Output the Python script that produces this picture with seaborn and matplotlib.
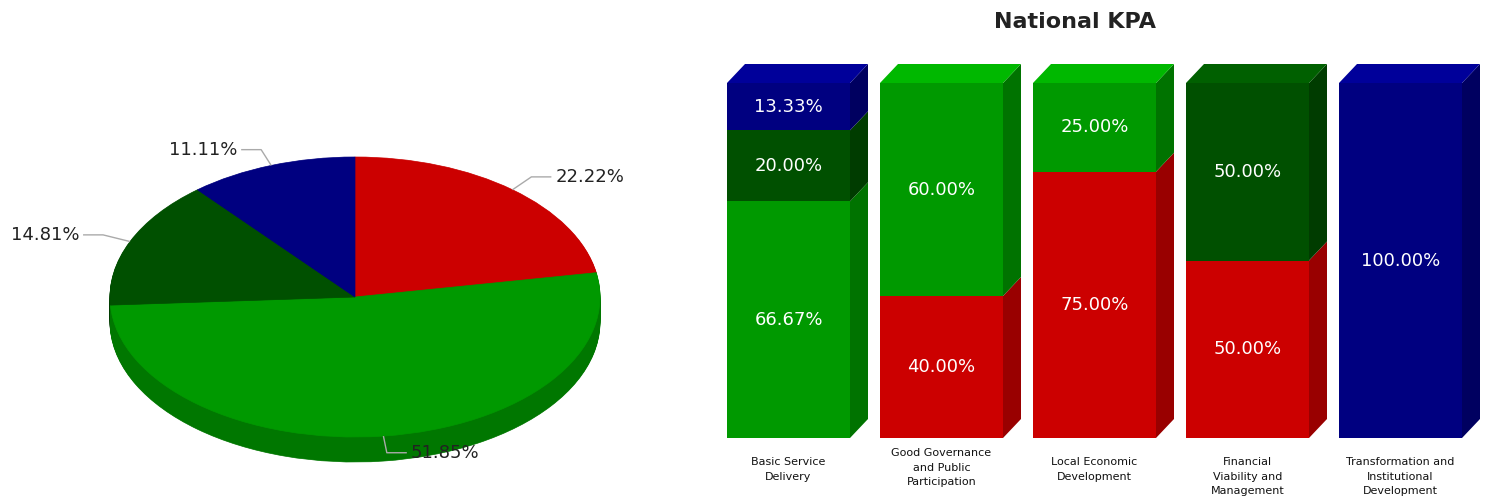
import numpy as np
import pandas as pd
import matplotlib
matplotlib.use("Agg")
import matplotlib.pyplot as plt
import matplotlib.colors as mcolors
from matplotlib.patches import Polygon
import seaborn as sns

# ---------------- data ----------------
pie_values = [22.22, 51.85, 14.81, 11.11]
pie_labels = ["22.22%", "51.85%", "14.81%", "11.11%"]

categories = [
    "Basic Service\nDelivery",
    "Good Governance\nand Public\nParticipation",
    "Local Economic\nDevelopment",
    "Financial\nViability and\nManagement",
    "Transformation and\nInstitutional\nDevelopment",
]
red_vals = [0, 40.00, 75.00, 50.00, 0]
green_vals = [66.67, 60.00, 25.00, 0, 0]
dkgreen_vals = [20.00, 0, 0, 50.00, 0]
navy_vals = [13.33, 0, 0, 0, 100.00]

series_colors = ["#cc0000", "#009900", "#005000", "#000080"]
title = "National KPA"

# ---------------- helpers ----------------
def shade(c, f):
    r, g, b = mcolors.to_rgb(c)
    return (min(r * f, 1), min(g * f, 1), min(b * f, 1))

sns.set_theme(style="white")
plt.rcParams["font.family"] = ["DejaVu Sans"]

W, H = 1487, 498
fig = plt.figure(figsize=(W / 100, H / 100), dpi=100)
fig.patch.set_facecolor("white")

# ---------------- 3D pie ----------------
cx, cy, rx, ry, depth_px = 355, 297, 245, 140, 25
pw = 669
ax1 = fig.add_axes([0, 0, pw / W, 1])
depth = depth_px / ry
side_cols = [shade(c, 0.78) for c in series_colors]
nl = 30
for k in range(nl, 0, -1):
    wedges, _ = ax1.pie(pie_values, colors=side_cols, startangle=90, counterclock=False,
                        center=(0, -depth * k / nl), wedgeprops=dict(linewidth=0))
    for w in wedges:
        w.set_edgecolor(w.get_facecolor())
        w.set_linewidth(0.5)
wedges, _ = ax1.pie(pie_values, colors=series_colors, startangle=90, counterclock=False,
                    center=(0, 0), wedgeprops=dict(linewidth=0))
for w in wedges:
    w.set_edgecolor(w.get_facecolor())
    w.set_linewidth(0.5)

cum = np.concatenate([[0], np.cumsum(pie_values)])
total = cum[-1]
for i, v in enumerate(pie_values):
    mid = np.deg2rad(90 - 360 * (cum[i] + v / 2) / total)
    px, py = np.cos(mid), np.sin(mid)
    ex, ey = 1.12 * px, 1.12 * py
    sgn = 1 if px >= 0 else -1
    hx = ex + sgn * 20 / rx
    ax1.plot([px, ex, hx], [py, ey, ey], color="#aaaaaa", lw=1, solid_capstyle="butt")
    ax1.text(hx + sgn * 4 / rx, ey, pie_labels[i], ha="left" if sgn > 0 else "right",
             va="center", fontsize=13, color="#222222")

ax1.set_aspect("auto")
ax1.set_xlim(-cx / rx, (pw - cx) / rx)
ax1.set_ylim(-(H - cy) / ry, cy / ry)
ax1.axis("off")

# ---------------- 3D stacked bars ----------------
bx0, bx1 = 710, 1480       # axes pixel extent
by_top, by_bot = 40, 438
pitch = 153
first_center = 788.5
pct_px = 3.55
bw = 123 / pitch
dx = 18 / pitch
dy = 19 / pct_px

ax2 = fig.add_axes([bx0 / W, (H - by_bot) / H, (bx1 - bx0) / W, (by_bot - by_top) / H])
stack = np.array([red_vals, green_vals, dkgreen_vals, navy_vals])
cums = np.cumsum(stack, axis=0)

for j in reversed(range(len(stack))):
    sns.barplot(x=categories, y=cums[j], order=categories, color=series_colors[j],
                saturation=1, width=bw, linewidth=0, errorbar=None, ax=ax2)

for i in range(len(categories)):
    xl, xr = i - bw / 2, i + bw / 2
    bottom = 0.0
    top_j = None
    for j in range(len(stack)):
        v = stack[j][i]
        if v <= 0:
            continue
        y0, y1 = bottom, bottom + v
        ax2.add_patch(Polygon([(xr, y0), (xr + dx, y0 + dy), (xr + dx, y1 + dy), (xr, y1)],
                              closed=True, facecolor=shade(series_colors[j], 0.75),
                              edgecolor="none", clip_on=False, zorder=3))
        ax2.text(i, (y0 + y1) / 2, f"{v:.2f}%", ha="center", va="center",
                 color="white", fontsize=13, zorder=5)
        bottom = y1
        top_j = j
    if top_j is not None:
        ax2.add_patch(Polygon([(xl, bottom), (xl + dx, bottom + dy), (xr + dx, bottom + dy), (xr, bottom)],
                              closed=True, facecolor=shade(series_colors[top_j], 1.2),
                              edgecolor="none", clip_on=False, zorder=3))

ax2.set_xlim(-(first_center - bx0) / pitch, (bx1 - first_center) / pitch)
ax2.set_ylim(0, (by_bot - by_top) / pct_px)
ax2.set_xticks(range(len(categories)))
ax2.set_xticklabels(categories, fontsize=8, linespacing=1.55, color="#111111")
ax2.tick_params(axis="x", length=0, pad=14)
ax2.set_yticks([])
ax2.set_xlabel("")
ax2.set_ylabel("")
for s in ax2.spines.values():
    s.set_visible(False)
ax2.patch.set_alpha(0)
import matplotlib.transforms as mtrans
lbl = ax2.get_xticklabels()[1]
lbl.set_transform(lbl.get_transform() + mtrans.ScaledTranslation(0, 9 / 100, fig.dpi_scale_trans))

fig.text(1075 / W, 1 - 22 / H, title, ha="center", va="center", fontsize=16,
         fontweight="bold", color="#222222")

fig.savefig("out.png", dpi=100)
